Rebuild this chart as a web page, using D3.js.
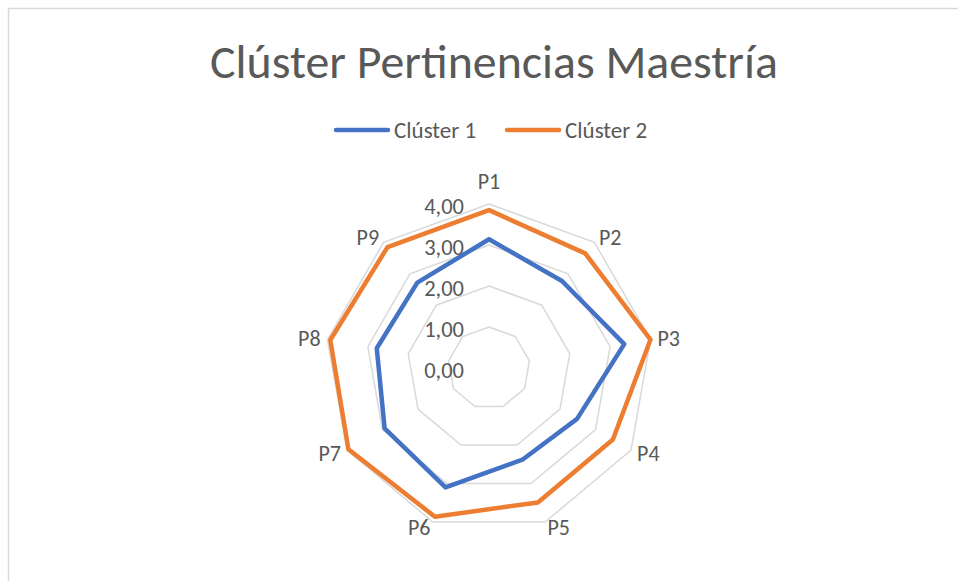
<!DOCTYPE html>
<html>
<head>
<meta charset="utf-8">
<script src="https://cdn.jsdelivr.net/npm/d3@7"></script>
<style>
  body { margin: 0; background: #fff; }
  svg text { font-family: Carlito, Calibri, Lato, sans-serif; fill: #595959; }
</style>
</head>
<body>
<svg id="chart"></svg>
<script>
const categories = ['P1', 'P2', 'P3', 'P4', 'P5', 'P6', 'P7', 'P8', 'P9'];
const cluster1 = [3.14, 2.77, 3.35, 2.48, 2.38, 3.10, 2.94, 2.78, 2.72];
const cluster2 = [3.85, 3.65, 4.00, 3.49, 3.49, 3.86, 3.96, 3.93, 3.85];
const seriesNames = ['Clúster 1', 'Clúster 2'];
const seriesColors = ['#4472C4', '#ED7D31'];
const ticks = [0, 1, 2, 3, 4];
const title = 'Clúster Pertinencias Maestría';

const width = 958, height = 581;
const cx = 489, cy = 368, radius = 164;

const svg = d3.select('#chart')
  .attr('width', width)
  .attr('height', height);

// chart area border (runs off the right and bottom)
svg.append('rect')
  .attr('x', 8.5).attr('y', 8.5)
  .attr('width', 1000).attr('height', 700)
  .style('fill', 'none')
  .style('stroke', '#d9d9d9')
  .style('stroke-width', 1.5);

// title, sized to fit its width in the reference
let t = svg.append('text')
  .attr('x', 494).attr('y', 78)
  .attr('text-anchor', 'middle')
  .style('font-size', '44px')
  .text(title);
let tl = t.node().getComputedTextLength();
t.style('font-size', (44 * 568 / tl) + 'px');

// legend
const legend = svg.append('g');
const legendX = [334, 505];
seriesNames.forEach((name, i) => {
  legend.append('line')
    .attr('x1', legendX[i] + 2).attr('x2', legendX[i] + 54)
    .attr('y1', 130).attr('y2', 130)
    .style('stroke', seriesColors[i])
    .style('stroke-width', 4.5)
    .style('stroke-linecap', 'round');
  legend.append('text')
    .attr('x', legendX[i] + 60).attr('y', 137.5)
    .style('font-size', '23px')
    .text(name);
});

const r = d3.scaleLinear().domain([0, 4]).range([0, radius]);
const angle = d3.scaleLinear().domain([0, categories.length]).range([0, 2 * Math.PI]);

function point(i, v) {
  const a = angle(i);
  return [cx + r(v) * Math.sin(a), cy - r(v) * Math.cos(a)];
}

// grid rings
const grid = svg.append('g');
ticks.filter(d => d > 0).forEach(tk => {
  grid.append('path')
    .attr('d', d3.line()(categories.map((c, i) => point(i, tk))) + 'Z')
    .style('fill', 'none')
    .style('stroke', '#d9d9d9')
    .style('stroke-width', 1.5);
});

// series
[cluster1, cluster2].forEach((vals, s) => {
  svg.append('path')
    .attr('d', d3.line()(vals.map((v, i) => point(i, v))) + 'Z')
    .style('fill', 'none')
    .style('stroke', seriesColors[s])
    .style('stroke-width', 4.5)
    .style('stroke-linejoin', 'round');
});

// tick labels
svg.append('g').selectAll('text')
  .data(ticks)
  .join('text')
  .attr('x', cx - 25)
  .attr('y', d => cy - r(d) + 2)
  .attr('text-anchor', 'end')
  .attr('dominant-baseline', 'central')
  .style('font-size', '22.5px')
  .text(d => d3.format('.2f')(d).replace('.', ','));

// category labels
svg.append('g').selectAll('text')
  .data(categories)
  .join('text')
  .attr('x', (d, i) => point(i, 4)[0] + Math.sin(angle(i)) * 7)
  .attr('y', (d, i) => {
    const s = Math.sin(angle(i)), c = Math.cos(angle(i));
    return point(i, 4)[1] - c * 6 - (Math.abs(s) < 0.1 ? 17 : 0);
  })
  .attr('text-anchor', (d, i) => {
    const s = Math.sin(angle(i));
    return Math.abs(s) < 0.1 ? 'middle' : (s > 0 ? 'start' : 'end');
  })
  .attr('dominant-baseline', 'central')
  .style('font-size', '22px')
  .text(d => d);
</script>
</body>
</html>
